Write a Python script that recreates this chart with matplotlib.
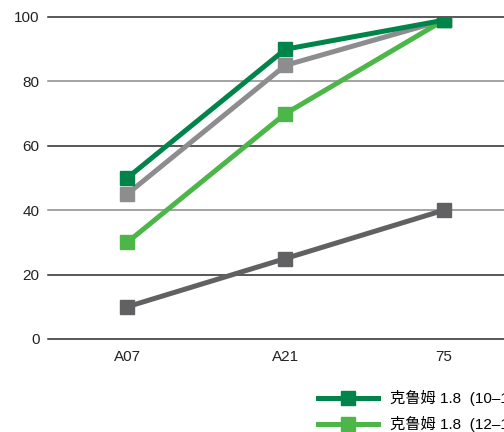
import matplotlib
matplotlib.use('Agg')
import matplotlib.pyplot as plt

plt.rcParams['font.family'] = ['Liberation Sans', 'Noto Sans CJK SC', 'DejaVu Sans']

categories = ['A07', 'A21', '75']
series_names = ['克鲁姆 1.8  (10–11)', '克鲁姆 1.8  (12–13)', '克鲁姆 1.6  (10–11)', '克鲁姆 1.6  (12–13)']
series_values = [
    [50, 90, 99],
    [30, 70, 99],
    [45, 85, 99],
    [10, 25, 40],
]
series_colors = ['#00844a', '#4cb748', '#8d8d8f', '#616163']
draw_order = [3, 2, 1, 0]
y_ticks = [0, 20, 40, 60, 80, 100]

fig = plt.figure(figsize=(5.04, 4.32), dpi=100)
ax = fig.add_axes([48 / 504, 93 / 432, 475 / 504, 322 / 432])

x = list(range(len(categories)))
handles = {}
for i in draw_order:
    h, = ax.plot(x, series_values[i], color=series_colors[i], lw=3.6,
                 marker='s', markersize=9.5, label=series_names[i], zorder=3 + (3 - i))
    handles[i] = h

ax.set_xlim(-0.5, 2.5)
ax.set_ylim(0, 100)
ax.set_yticks(y_ticks)
ax.set_xticks(x)
ax.set_xticklabels(categories)
for s in ax.spines.values():
    s.set_visible(False)
ax.tick_params(axis='both', length=0, labelsize=11, colors='#222222')
ax.tick_params(axis='y', pad=6)
ax.tick_params(axis='x', pad=8)

# alternating gridline colours
for v in y_ticks:
    c = '#8a8a8a' if v in (40, 80) else '#2a2a2a'
    ax.axhline(v, color=c, lw=1.1, zorder=1, clip_on=False)

leg = fig.legend([handles[i] for i in range(4)], series_names, ncol=2,
                 loc='upper left', bbox_to_anchor=(318 / 504, 1 - 390 / 432),
                 frameon=False, fontsize=11, handlelength=3.9,
                 handletextpad=0.8, labelspacing=0.65, columnspacing=2.0,
                 borderaxespad=0, borderpad=0)

fig.savefig('out.png', dpi=100)
